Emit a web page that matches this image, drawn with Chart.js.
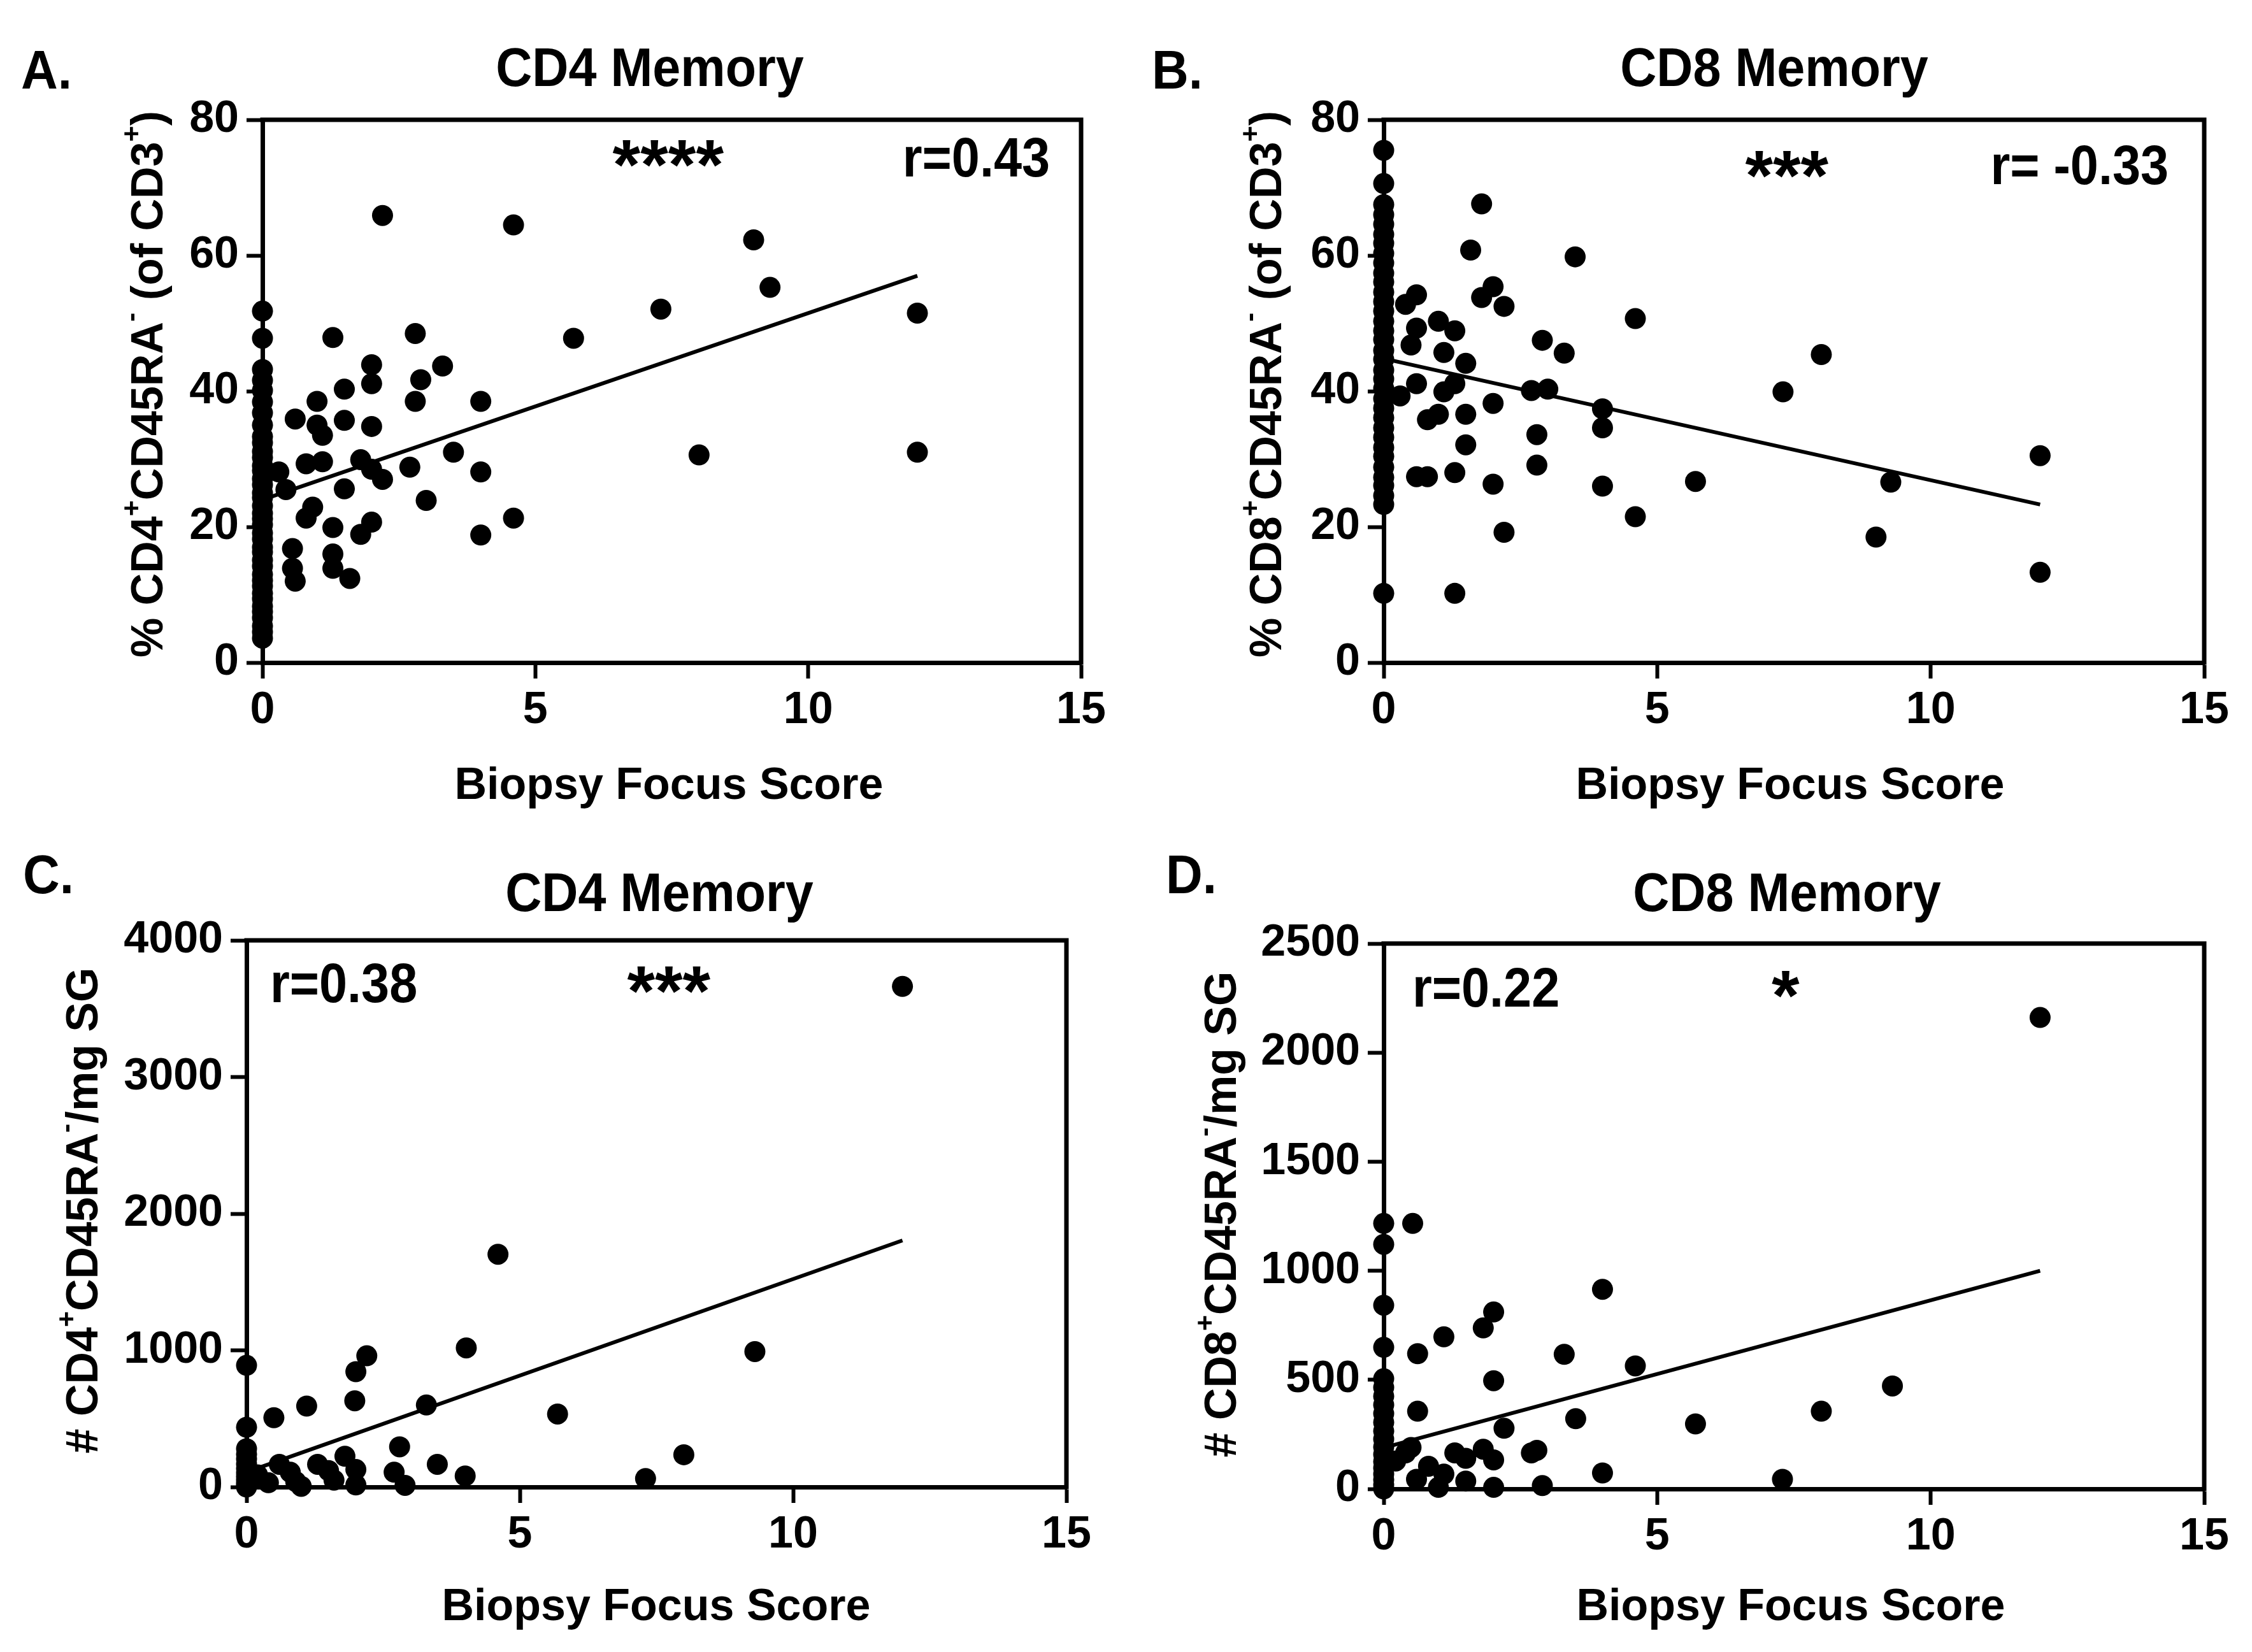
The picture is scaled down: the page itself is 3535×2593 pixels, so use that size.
<!DOCTYPE html>
<html><head><meta charset="utf-8">
<script src="https://cdn.jsdelivr.net/npm/chart.js@4.4.1/dist/chart.umd.min.js"></script>
<style>
html,body{margin:0;padding:0;background:#fff;}
body{width:3535px;height:2593px;position:relative;overflow:hidden;}
canvas{position:absolute;}
</style></head><body>
<canvas id="cA" width="1768" height="1300" style="left:0px;top:0px"></canvas>
<canvas id="cB" width="1767" height="1300" style="left:1768px;top:0px"></canvas>
<canvas id="cC" width="1768" height="1293" style="left:0px;top:1300px"></canvas>
<canvas id="cD" width="1767" height="1293" style="left:1768px;top:1300px"></canvas>
<script>
// ---------- DATA ----------
const xTicks = [0, 5, 10, 15];
const pctTicks = [0, 20, 40, 60, 80];
const cd4CountTicks = [0, 1000, 2000, 3000, 4000];
const cd8CountTicks = [0, 500, 1000, 1500, 2000, 2500];

// A. CD4 Memory, % of CD3
const cd4PctScore = [0.3,0.43,0.55,0.55,0.6,0.6,0.8,0.8,0.92,1.0,1.0,1.1,1.1,1.29,1.29,1.29,1.29,1.5,1.5,1.5,1.6,1.8,1.8,2.0,2.0,2.0,2.0,2.0,2.2,2.2,2.7,2.8,2.8,2.9,3.0,3.3,3.5,4.0,4.0,4.0,4.6,4.6,5.7,7.3,8.0,9.0,9.3,12.0,12.0];
const cd4PctValue = [28.1,25.5,16.8,13.9,12.0,35.9,29.3,21.3,22.9,38.5,35.0,33.5,29.6,47.9,19.9,16.0,13.9,40.3,35.7,25.6,12.4,29.9,18.9,43.9,41.1,34.8,28.5,20.7,65.9,27.0,28.8,48.5,38.5,41.7,23.9,43.7,31.0,38.5,28.1,18.8,64.5,21.3,47.8,52.1,30.6,62.3,55.3,51.5,31.0];
const cd4PctAtZero = [3.6,4.5,5.4,6.6,7.5,8.3,9.4,10.2,11.3,12.1,13.0,14.2,15.1,16.3,17.0,18.2,19.1,20.3,21.2,22.0,23.1,24.3,25.0,26.2,27.1,28.3,29.0,30.2,31.1,32.4,33.3,35.0,36.8,38.4,40.1,41.6,43.2,47.8,51.8];
const cd4PctFit = [[0, 24.0], [12, 57.0]];

// B. CD8 Memory, % of CD3
const cd8PctScore = [0.3,0.4,0.5,0.6,0.6,0.6,0.6,0.8,0.8,1.0,1.0,1.1,1.1,1.3,1.3,1.3,1.3,1.5,1.5,1.5,1.59,1.79,1.79,2.0,2.0,2.0,2.2,2.2,2.7,2.8,2.8,2.9,3.0,3.3,3.5,4.0,4.0,4.0,4.6,4.6,5.7,7.3,8.0,9.0,9.27,12.0,12.0];
const cd8PctValue = [39.3,52.8,46.8,54.2,49.3,41.1,27.4,35.8,27.4,50.3,36.6,45.7,39.9,48.9,41.1,28.0,10.2,44.1,36.6,32.1,60.8,67.6,53.8,55.4,38.2,26.3,52.5,19.2,40.1,33.6,29.1,47.5,40.3,45.6,59.8,37.4,34.6,26.0,50.7,21.5,26.7,39.9,45.4,18.5,26.6,30.5,13.3];
const cd8PctAtZero = [10.2,23.3,24.6,26.1,27.3,28.8,30.4,31.7,33.2,34.6,36.1,37.5,38.9,40.4,41.8,43.1,44.7,46.0,47.6,48.9,50.3,51.8,53.2,54.6,56.1,57.4,58.9,60.3,61.8,63.1,64.6,66.0,67.5,70.6,75.5];
const cd8PctFit = [[0, 44.8], [12, 23.3]];

// C. CD4 Memory, cells per mg SG
const cd4CountScore = [0.2,0.4,0.5,0.6,0.8,0.9,1.0,1.1,1.3,1.5,1.6,1.8,1.98,2.0,2.0,2.0,2.2,2.7,2.8,2.9,3.29,3.49,4.0,4.02,4.6,5.69,7.3,8.0,9.3,12.0];
const cd4CountValue = [89,31,507,166,108,40,5,592,166,120,50,225,631,844,128,15,960,108,294,12,600,166,81,1018,1703,534,62,236,991,3663];
const cd4CountAtZero = [0,14,32,55,78,104,135,168,205,240,280,437,890];
const cd4CountFit = [[0, 109], [12, 1804]];

// D. CD8 Memory, cells per mg SG
const cd8CountScore = [0.22,0.4,0.5,0.53,0.6,0.62,0.62,0.82,1.0,1.1,1.1,1.3,1.5,1.5,1.82,1.82,2.01,2.01,2.01,2.01,2.2,2.7,2.8,2.9,3.3,3.51,4.0,4.0,4.6,5.7,7.29,8.0,9.3,12.0];
const cd8CountValue = [128,165,190,1217,44,620,356,104,7,697,68,165,140,36,738,182,811,496,133,7,278,165,177,15,617,322,915,73,564,298,44,356,472,2161];
const cd8CountAtZero = [0,18,42,68,96,125,158,192,228,265,305,345,385,425,465,505,649,842,1121,1217];
const cd8CountFit = [[0, 189], [12, 1000]];

// ---------- LAYOUT / STYLE ----------
const FONT = "'Liberation Sans', Arial, Helvetica, sans-serif";
const Y_W = 250, X_H = 150;

const panels = [
  { id:'cA', cx:0, cy:0, cw:1768, ch:1300, area:[412,188,1697,1040],
    score:cd4PctScore, value:cd4PctValue, zero:cd4PctAtZero, fit:cd4PctFit, yTicks:pctTicks,
    letter:['A.',33,139], title:['CD4 Memory',1020,135],
    rText:['r=0.43',1648,277,'right'], stars:['****',1049,241],
    xTitle:[1050,1254], yTitle:[255,603],
    ySegs:[['% CD4'],['+',1],['CD45RA'],['-',1],[' (of CD3'],['+',1],[')']] },
  { id:'cB', cx:1768, cy:0, cw:1767, ch:1300, area:[2172,188,3460,1040],
    score:cd8PctScore, value:cd8PctValue, zero:cd8PctAtZero, fit:cd8PctFit, yTicks:pctTicks,
    letter:['B.',1808,139], title:['CD8 Memory',2785,135],
    rText:['r= -0.33',3404,289,'right'], stars:['***',2805,258],
    xTitle:[2810,1254], yTitle:[2011,603],
    ySegs:[['% CD8'],['+',1],['CD45RA'],['-',1],[' (of CD3'],['+',1],[')']] },
  { id:'cC', cx:0, cy:1300, cw:1768, ch:1293, area:[387,1476,1674,2334],
    score:cd4CountScore, value:cd4CountValue, zero:cd4CountAtZero, fit:cd4CountFit, yTicks:cd4CountTicks,
    letter:['C.',36,1402], title:['CD4 Memory',1035,1430],
    rText:['r=0.38',424,1573,'left'], stars:['***',1050,1538],
    xTitle:[1030,2543], yTitle:[153,1900],
    ySegs:[['# CD4'],['+',1],['CD45RA'],['-',1],['/mg SG']] },
  { id:'cD', cx:1768, cy:1300, cw:1767, ch:1293, area:[2172,1481,3460,2337],
    score:cd8CountScore, value:cd8CountValue, zero:cd8CountAtZero, fit:cd8CountFit, yTicks:cd8CountTicks,
    letter:['D.',1830,1402], title:['CD8 Memory',2805,1430],
    rText:['r=0.22',2217,1580,'left'], stars:['*',2803,1545],
    xTitle:[2811,2543], yTitle:[1940,1906],
    ySegs:[['# CD8'],['+',1],['CD45RA'],['-',1],['/mg SG']] }
];

function drawText(ctx, s, x, y, size, align, sx) {
  ctx.save();
  ctx.font = 'bold ' + size + 'px ' + FONT;
  ctx.fillStyle = '#000';
  ctx.textBaseline = 'alphabetic';
  ctx.textAlign = align;
  ctx.translate(x, y);
  ctx.scale(sx, 1);
  ctx.fillText(s, 0, 0);
  ctx.restore();
}
function drawCentredInk(ctx, s, cx, cy, size) {
  ctx.save();
  ctx.font = 'bold ' + size + 'px ' + FONT;
  ctx.fillStyle = '#000';
  ctx.textAlign = 'left';
  ctx.textBaseline = 'alphabetic';
  const m = ctx.measureText(s);
  const x0 = cx - (m.actualBoundingBoxRight - m.actualBoundingBoxLeft) / 2;
  const y0 = cy + (m.actualBoundingBoxAscent - m.actualBoundingBoxDescent) / 2;
  ctx.fillText(s, x0, y0);
  ctx.restore();
}
function drawVerticalRich(ctx, segs, bx, cy, size) {
  ctx.save();
  ctx.translate(bx, cy);
  ctx.rotate(-Math.PI / 2);
  ctx.fillStyle = '#000';
  ctx.textAlign = 'left';
  ctx.textBaseline = 'alphabetic';
  const supSize = Math.round(size * 0.62);
  let total = 0;
  const widths = segs.map(sg => {
    ctx.font = 'bold ' + (sg[1] ? supSize : size) + 'px ' + FONT;
    const w = ctx.measureText(sg[0]).width;
    total += w; return w;
  });
  let x = -total / 2;
  segs.forEach((sg, i) => {
    ctx.font = 'bold ' + (sg[1] ? supSize : size) + 'px ' + FONT;
    ctx.fillText(sg[0], x, sg[1] ? -size * 0.5 : 0);
    x += widths[i];
  });
  ctx.restore();
}

function makeChart(p) {
  const pts = p.score.map((s, i) => ({ x: s, y: p.value[i] }))
    .concat(p.zero.map(v => ({ x: 0, y: v })));
  const fitPts = p.fit.map(f => ({ x: f[0], y: f[1] }));
  const [L, T, R, B] = p.area;
  const yt = p.yTicks;
  const tickFont = { family: FONT, size: 70, weight: 'bold' };
  const decor = {
    id: 'decor' + p.id,
    beforeDatasetsDraw(chart) {
      const ctx = chart.ctx, a = chart.chartArea;
      ctx.save();
      ctx.strokeStyle = '#000';
      ctx.lineWidth = 7;
      ctx.lineCap = 'square';
      ctx.beginPath();
      ctx.moveTo(a.left, a.top);
      ctx.lineTo(a.right, a.top);
      ctx.lineTo(a.right, a.bottom);
      ctx.stroke();
      ctx.restore();
    },
    afterDraw(chart) {
      const ctx = chart.ctx, ox = p.cx, oy = p.cy;
      drawText(ctx, p.letter[0], p.letter[1] - ox, p.letter[2] - oy, 86, 'left', 0.93);
      drawText(ctx, p.title[0], p.title[1] - ox, p.title[2] - oy, 86, 'center', 0.92);
      drawText(ctx, p.rText[0], p.rText[1] - ox, p.rText[2] - oy, 88, p.rText[3], 0.9);
      drawCentredInk(ctx, p.stars[0], p.stars[1] - ox, p.stars[2] - oy, 112);
      drawText(ctx, 'Biopsy Focus Score', p.xTitle[0] - ox, p.xTitle[1] - oy, 70, 'center', 1);
      drawVerticalRich(ctx, p.ySegs, p.yTitle[0] - ox, p.yTitle[1] - oy, 70);
    }
  };
  return new Chart(document.getElementById(p.id), {
    type: 'scatter',
    data: {
      datasets: [
        { data: pts, pointRadius: 16.5, pointHoverRadius: 16.5, pointBorderWidth: 0,
          backgroundColor: '#000', borderColor: '#000', clip: false },
        { data: fitPts, showLine: true, pointRadius: 0, pointHoverRadius: 0,
          borderColor: '#000', borderWidth: 6, clip: false }
      ]
    },
    options: {
      responsive: false, animation: false, devicePixelRatio: 1,
      events: [],
      layout: { padding: { left: L - p.cx - Y_W, top: T - p.cy, right: p.cx + p.cw - R, bottom: p.cy + p.ch - B - X_H } },
      plugins: { legend: { display: false }, tooltip: { enabled: false }, title: { display: false } },
      scales: {
        x: {
          type: 'linear', position: 'bottom', min: xTicks[0], max: xTicks[xTicks.length - 1],
          afterFit: s => { s.height = X_H; },
          afterBuildTicks: s => { s.ticks = xTicks.map(v => ({ value: v })); },
          border: { display: true, color: '#000', width: 7 },
          grid: { display: true, drawOnChartArea: false, drawTicks: true, tickLength: 25, tickWidth: 6, tickColor: '#000' },
          ticks: { color: '#000', font: tickFont, autoSkip: false, maxRotation: 0, padding: 9, callback: v => String(v) }
        },
        y: {
          type: 'linear', position: 'left', min: yt[0], max: yt[yt.length - 1],
          afterFit: s => { s.width = Y_W; },
          afterBuildTicks: s => { s.ticks = yt.map(v => ({ value: v })); },
          border: { display: true, color: '#000', width: 7 },
          grid: { display: true, drawOnChartArea: false, drawTicks: true, tickLength: 25, tickWidth: 6, tickColor: '#000' },
          ticks: { color: '#000', font: tickFont, autoSkip: false, padding: 12, callback: v => String(v) }
        }
      }
    },
    plugins: [decor]
  });
}
panels.forEach(makeChart);
</script>
</body></html>
